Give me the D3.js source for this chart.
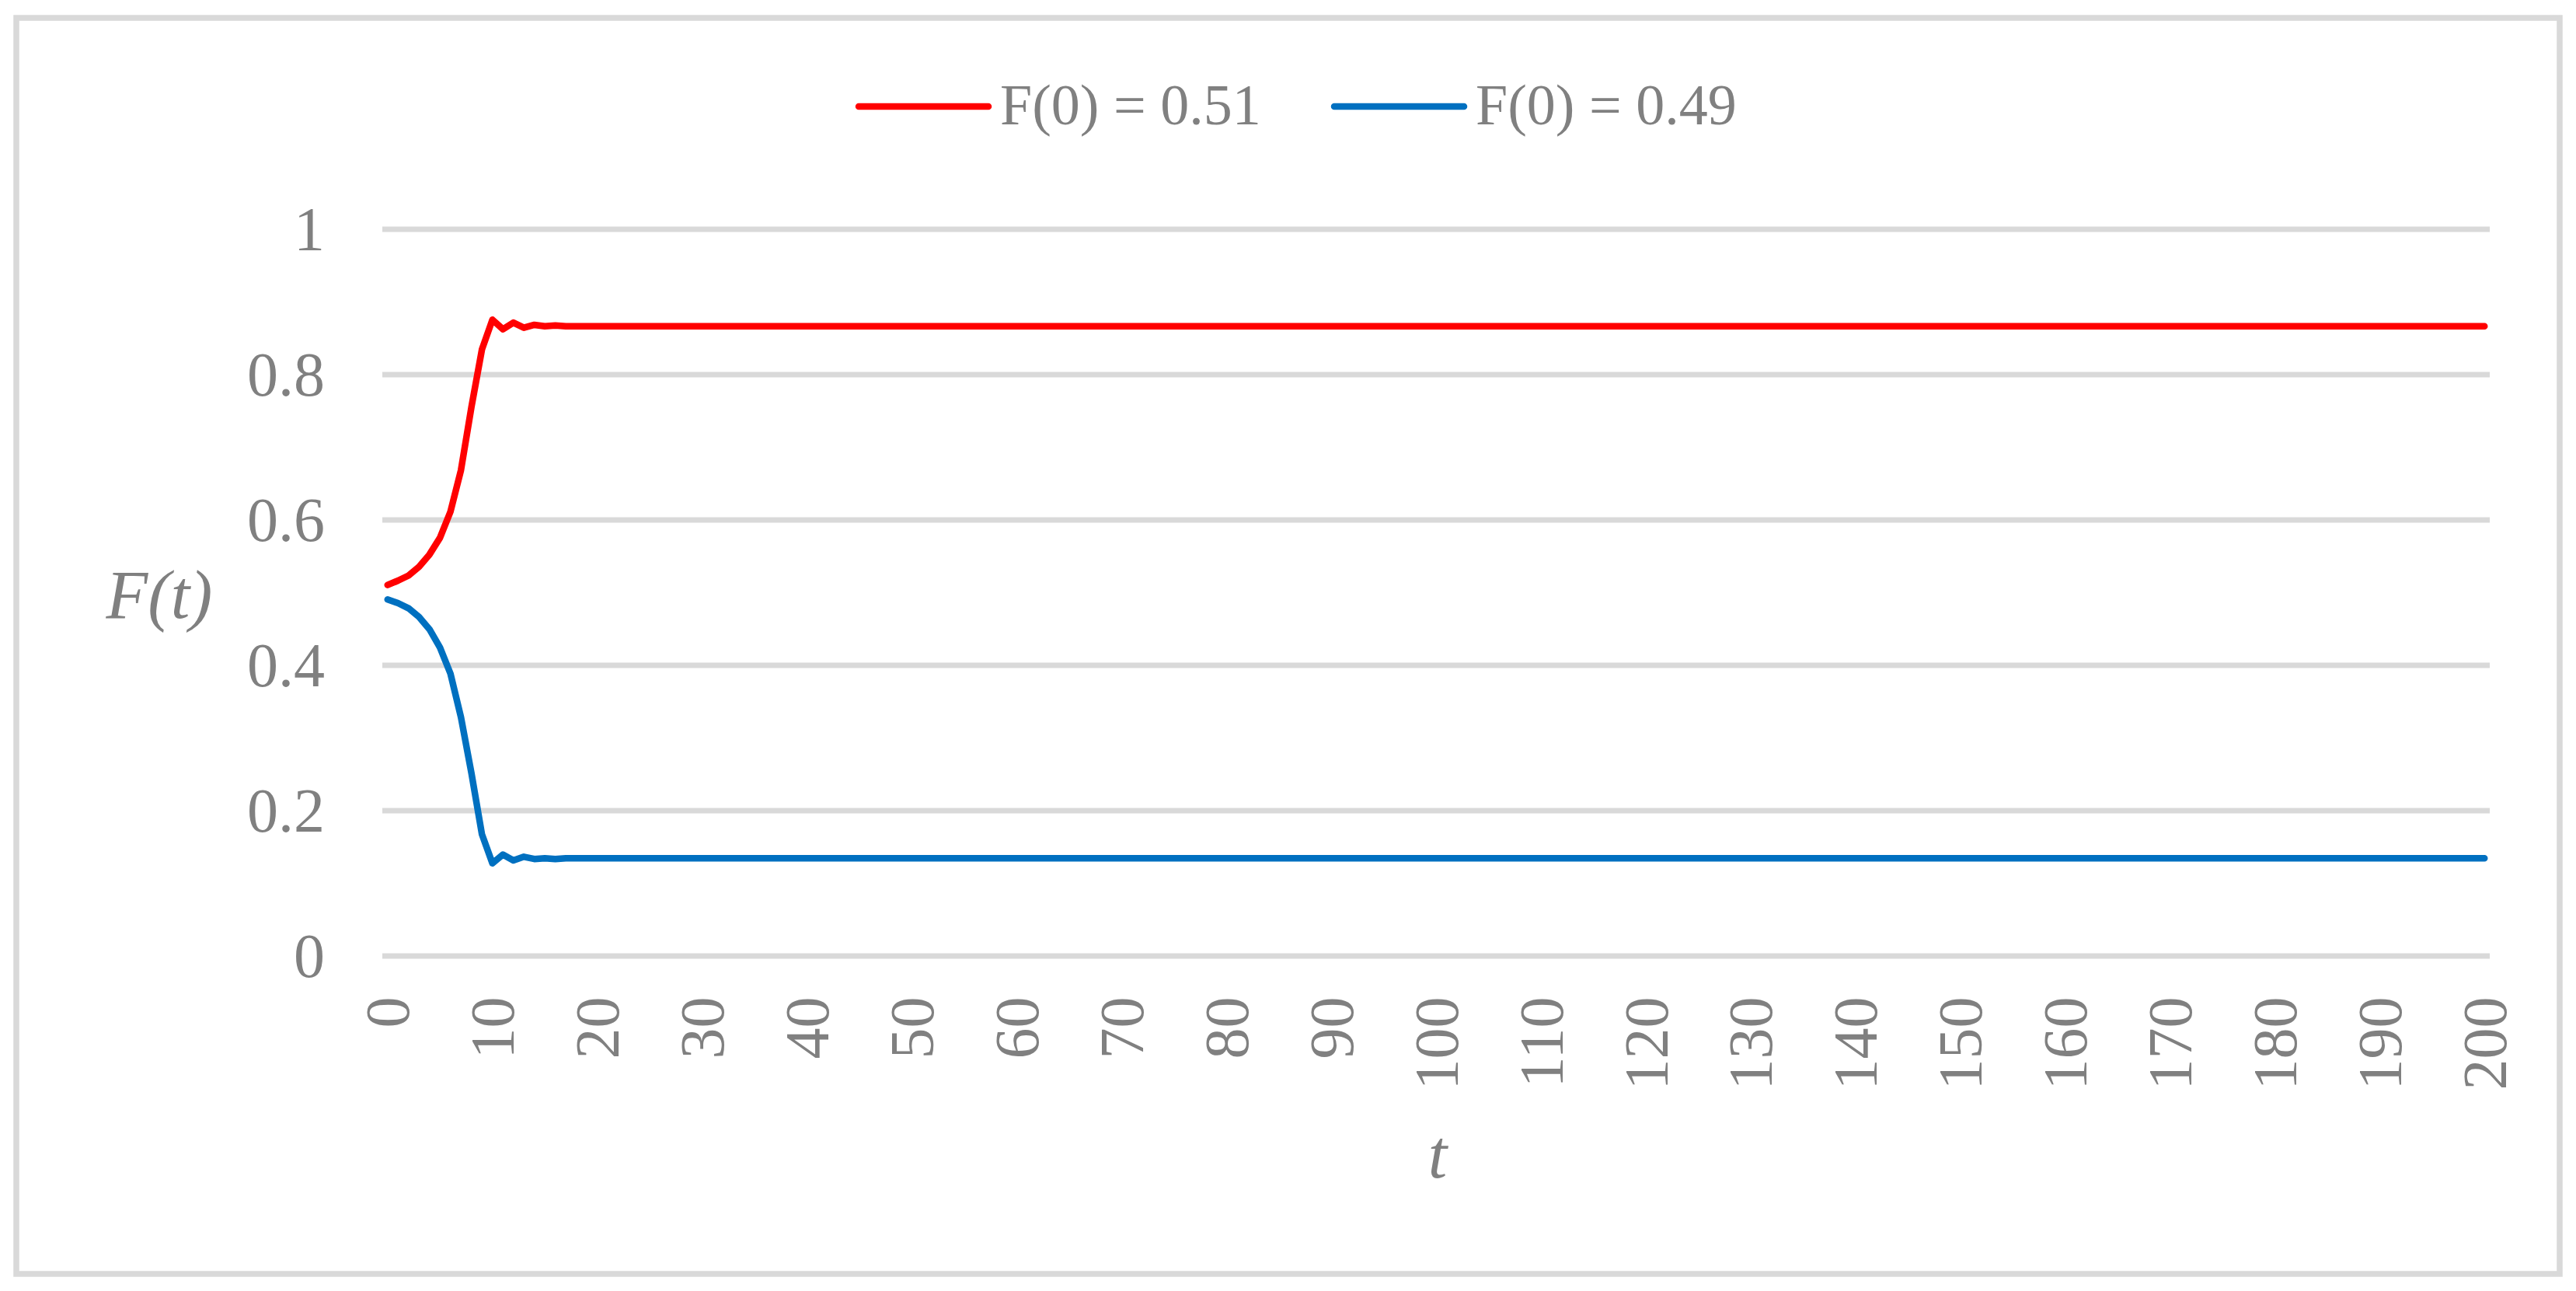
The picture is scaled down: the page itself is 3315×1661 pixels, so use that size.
<!DOCTYPE html>
<html>
<head>
<meta charset="utf-8">
<style>
  body { margin: 0; background: #fff; }
  text { font-family: "Liberation Serif", "Times New Roman", serif; fill: #808080; }
</style>
</head>
<body>
<svg width="3315" height="1661"></svg>

<script src="https://d3js.org/d3.v7.min.js"></script>
<script>
// chart data
var times = d3.range(0, 201);
var xTickLabels = [0, 10, 20, 30, 40, 50, 60, 70, 80, 90, 100, 110, 120, 130, 140, 150, 160, 170, 180, 190, 200];
var yTickLabels = [0, 0.2, 0.4, 0.6, 0.8, 1];
var seriesNames = ["F(0) = 0.51", "F(0) = 0.49"];
var seriesColors = ["#ff0000", "#0070c0"];

var redValues = [
  0.510, 0.516, 0.523, 0.535, 0.552, 0.575, 0.611, 0.668, 0.755, 0.834,
  0.875, 0.862, 0.871, 0.864, 0.868, 0.866, 0.867, 0.866, 0.866, 0.866,
  0.866, 0.866, 0.866, 0.866, 0.866, 0.866, 0.866, 0.866, 0.866, 0.866, 0.866, 0.866, 0.866, 0.866, 0.866, 0.866, 0.866, 0.866, 0.866, 0.866,
  0.866, 0.866, 0.866, 0.866, 0.866, 0.866, 0.866, 0.866, 0.866, 0.866, 0.866, 0.866, 0.866, 0.866, 0.866, 0.866, 0.866, 0.866, 0.866, 0.866,
  0.866, 0.866, 0.866, 0.866, 0.866, 0.866, 0.866, 0.866, 0.866, 0.866, 0.866, 0.866, 0.866, 0.866, 0.866, 0.866, 0.866, 0.866, 0.866, 0.866,
  0.866, 0.866, 0.866, 0.866, 0.866, 0.866, 0.866, 0.866, 0.866, 0.866, 0.866, 0.866, 0.866, 0.866, 0.866, 0.866, 0.866, 0.866, 0.866, 0.866,
  0.866, 0.866, 0.866, 0.866, 0.866, 0.866, 0.866, 0.866, 0.866, 0.866, 0.866, 0.866, 0.866, 0.866, 0.866, 0.866, 0.866, 0.866, 0.866, 0.866,
  0.866, 0.866, 0.866, 0.866, 0.866, 0.866, 0.866, 0.866, 0.866, 0.866, 0.866, 0.866, 0.866, 0.866, 0.866, 0.866, 0.866, 0.866, 0.866, 0.866,
  0.866, 0.866, 0.866, 0.866, 0.866, 0.866, 0.866, 0.866, 0.866, 0.866, 0.866, 0.866, 0.866, 0.866, 0.866, 0.866, 0.866, 0.866, 0.866, 0.866,
  0.866, 0.866, 0.866, 0.866, 0.866, 0.866, 0.866, 0.866, 0.866, 0.866, 0.866, 0.866, 0.866, 0.866, 0.866, 0.866, 0.866, 0.866, 0.866, 0.866,
  0.866, 0.866, 0.866, 0.866, 0.866, 0.866, 0.866, 0.866, 0.866, 0.866, 0.866, 0.866, 0.866, 0.866, 0.866, 0.866, 0.866, 0.866, 0.866, 0.866,
  0.866
];

var blueValues = [
  0.490, 0.485, 0.478, 0.466, 0.449, 0.424, 0.388, 0.328, 0.251, 0.167,
  0.127, 0.139, 0.131, 0.136, 0.133, 0.134, 0.133, 0.134, 0.134, 0.134,
  0.134, 0.134, 0.134, 0.134, 0.134, 0.134, 0.134, 0.134, 0.134, 0.134, 0.134, 0.134, 0.134, 0.134, 0.134, 0.134, 0.134, 0.134, 0.134, 0.134,
  0.134, 0.134, 0.134, 0.134, 0.134, 0.134, 0.134, 0.134, 0.134, 0.134, 0.134, 0.134, 0.134, 0.134, 0.134, 0.134, 0.134, 0.134, 0.134, 0.134,
  0.134, 0.134, 0.134, 0.134, 0.134, 0.134, 0.134, 0.134, 0.134, 0.134, 0.134, 0.134, 0.134, 0.134, 0.134, 0.134, 0.134, 0.134, 0.134, 0.134,
  0.134, 0.134, 0.134, 0.134, 0.134, 0.134, 0.134, 0.134, 0.134, 0.134, 0.134, 0.134, 0.134, 0.134, 0.134, 0.134, 0.134, 0.134, 0.134, 0.134,
  0.134, 0.134, 0.134, 0.134, 0.134, 0.134, 0.134, 0.134, 0.134, 0.134, 0.134, 0.134, 0.134, 0.134, 0.134, 0.134, 0.134, 0.134, 0.134, 0.134,
  0.134, 0.134, 0.134, 0.134, 0.134, 0.134, 0.134, 0.134, 0.134, 0.134, 0.134, 0.134, 0.134, 0.134, 0.134, 0.134, 0.134, 0.134, 0.134, 0.134,
  0.134, 0.134, 0.134, 0.134, 0.134, 0.134, 0.134, 0.134, 0.134, 0.134, 0.134, 0.134, 0.134, 0.134, 0.134, 0.134, 0.134, 0.134, 0.134, 0.134,
  0.134, 0.134, 0.134, 0.134, 0.134, 0.134, 0.134, 0.134, 0.134, 0.134, 0.134, 0.134, 0.134, 0.134, 0.134, 0.134, 0.134, 0.134, 0.134, 0.134,
  0.134, 0.134, 0.134, 0.134, 0.134, 0.134, 0.134, 0.134, 0.134, 0.134, 0.134, 0.134, 0.134, 0.134, 0.134, 0.134, 0.134, 0.134, 0.134, 0.134,
  0.134
];

var svg = d3.select('svg');

// outer chart frame
svg.append('rect')
  .attr('x', 21).attr('y', 23)
  .attr('width', 3273).attr('height', 1616)
  .attr('fill', 'none')
  .attr('stroke', '#d9d9d9')
  .attr('stroke-width', 7.5);

var plotLeft = 492, plotRight = 3204, plotTop = 294.5, plotBottom = 1229.5;

var x = d3.scalePoint().domain(times).range([plotLeft, plotRight]).padding(0.5);
var y = d3.scaleLinear().domain([0, 1]).range([plotBottom, plotTop]);

// y axis + gridlines
var yAxis = svg.append('g')
  .attr('transform', 'translate(' + plotLeft + ',0)')
  .call(d3.axisLeft(y)
    .tickValues(yTickLabels)
    .tickFormat(function(d) { return String(d); })
    .tickSizeInner(-(plotRight - plotLeft))
    .tickSizeOuter(0)
    .tickPadding(74));
yAxis.select('.domain').remove();
yAxis.selectAll('line').attr('stroke', '#d9d9d9').attr('stroke-width', 7);
yAxis.selectAll('text')
  .style('font-size', '80px')
  .attr('dy', '0.34em')
  .attr('fill', '#808080');

// x axis, labels rotated
var xAxis = svg.append('g')
  .attr('transform', 'translate(0,' + plotBottom + ')')
  .call(d3.axisBottom(x).tickValues(xTickLabels).tickSize(0));
xAxis.select('.domain').remove();
xAxis.selectAll('text')
  .style('font-size', '80px')
  .attr('fill', '#808080')
  .attr('transform', 'rotate(-90)')
  .attr('text-anchor', 'end')
  .attr('x', -53)
  .attr('y', 0)
  .attr('dy', '0.34em');

// lines
var line = d3.line()
  .x(function(d, i) { return x(times[i]); })
  .y(function(d) { return y(d); });

[redValues, blueValues].forEach(function(vals, k) {
  svg.append('path')
    .datum(vals)
    .attr('d', line)
    .attr('fill', 'none')
    .attr('stroke', seriesColors[k])
    .attr('stroke-width', 8.5)
    .attr('stroke-linejoin', 'round')
    .attr('stroke-linecap', 'round');
});

// legend
var legendX = [1105, 1717];
seriesNames.forEach(function(name, k) {
  svg.append('line')
    .attr('x1', legendX[k]).attr('x2', legendX[k] + 167)
    .attr('y1', 137).attr('y2', 137)
    .attr('stroke', seriesColors[k])
    .attr('stroke-width', 8.5)
    .attr('stroke-linecap', 'round');
  svg.append('text')
    .attr('x', legendX[k] + 182)
    .attr('y', 160)
    .style('font-size', '74px')
    .text(name);
});

// axis titles
svg.append('text')
  .attr('x', 205).attr('y', 795)
  .attr('text-anchor', 'middle')
  .style('font-size', '88px')
  .style('font-style', 'italic')
  .text('F(t)');

svg.append('text')
  .attr('x', 1850).attr('y', 1515)
  .attr('text-anchor', 'middle')
  .style('font-size', '88px')
  .style('font-style', 'italic')
  .text('t');
</script>
</body>
</html>
